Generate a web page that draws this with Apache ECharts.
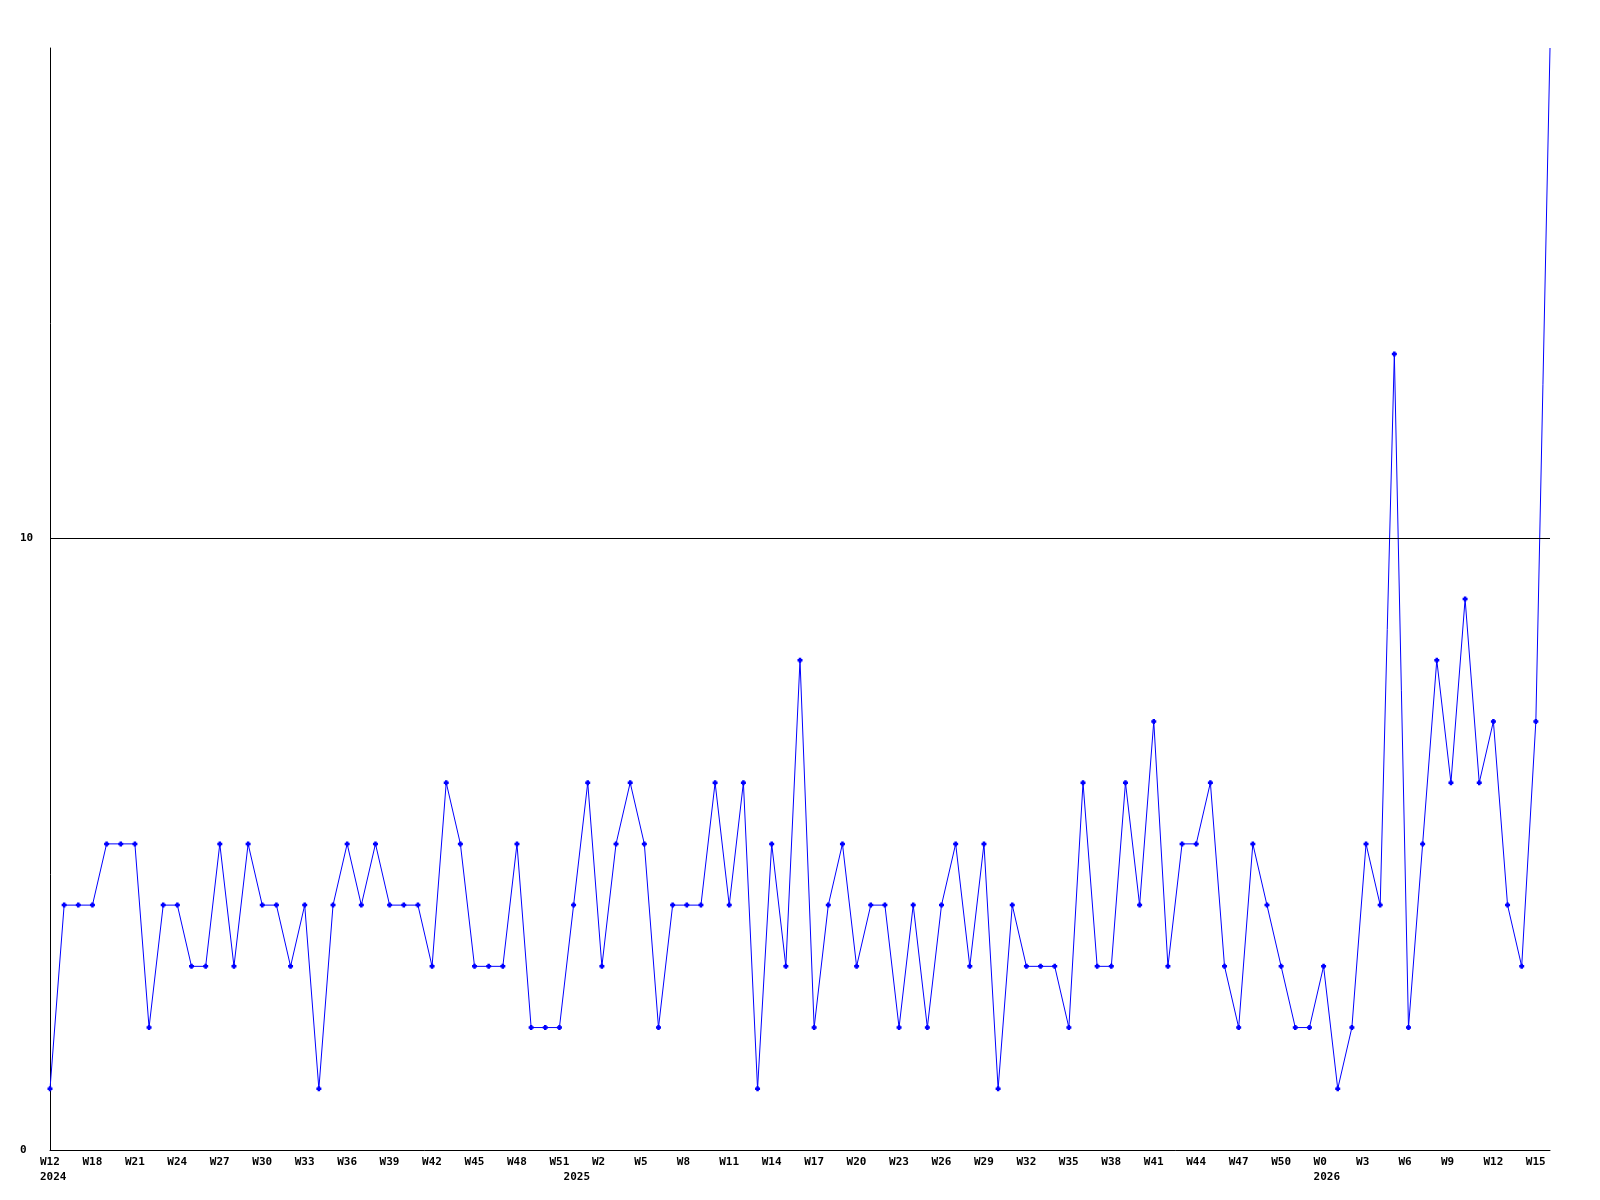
<!DOCTYPE html>
<html>
<head>
<meta charset="utf-8">
<script src="https://cdn.jsdelivr.net/npm/echarts@6/dist/echarts.min.js"></script>
<style>
  html, body { margin: 0; padding: 0; background: #ffffff; }
  #chart { width: 1600px; height: 1200px; }
</style>
</head>
<body>
<div id="chart"></div>
<script>
// Weekly values, one per week (107 weeks)
const weeklyValues = [
  1, 4, 4, 4, 5, 5, 5, 2, 4, 4,
  3, 3, 5, 3, 5, 4, 4, 3, 4, 1,
  4, 5, 4, 5, 4, 4, 4, 3, 6, 5,
  3, 3, 3, 5, 2, 2, 2, 4, 6, 3,
  5, 6, 5, 2, 4, 4, 4, 6, 4, 6,
  1, 5, 3, 8, 2, 4, 5, 3, 4, 4,
  2, 4, 2, 4, 5, 3, 5, 1, 4, 3,
  3, 3, 2, 6, 3, 3, 6, 4, 7, 3,
  5, 5, 6, 3, 2, 5, 4, 3, 2, 2,
  3, 1, 2, 5, 4, 13, 2, 5, 8, 6,
  9, 6, 7, 4, 3, 7, 18
];

// Week tick labels, shown on every third week
const weekTickLabels = [
  'W12', 'W18', 'W21', 'W24', 'W27', 'W30', 'W33', 'W36', 'W39', 'W42',
  'W45', 'W48', 'W51', 'W2', 'W5', 'W8', 'W11', 'W14', 'W17', 'W20',
  'W23', 'W26', 'W29', 'W32', 'W35', 'W38', 'W41', 'W44', 'W47', 'W50',
  'W0', 'W3', 'W6', 'W9', 'W12', 'W15'
];

// Year labels and the week (category index) where each year starts
const yearLabels = ['2024', '2025', '2026'];
const yearStartWeek = [0, 37, 90];

// Y axis tick labels
const yTickLabels = [0, 10];
const Y_MAX = 18;

const categories = weeklyValues.map((v, i) => String(i));

const FONT = '"DejaVu Sans Mono", "Liberation Mono", monospace';
const MARKER = 'path://M1,0H3V1H4V3H3V4H1V3H0V1H1Z';

const chart = echarts.init(document.getElementById('chart'), null, { renderer: 'canvas' });

chart.setOption({
  animation: false,
  backgroundColor: '#ffffff',
  grid: { left: 50, right: 50, top: 48, bottom: 50, containLabel: false },
  xAxis: {
    type: 'category',
    data: categories,
    boundaryGap: false,
    axisLine: { show: true, lineStyle: { color: '#000000', width: 1 } },
    axisTick: { show: false },
    splitLine: { show: false },
    axisLabel: {
      interval: 0,
      margin: 5,
      align: 'center',
      width: 20,
      overflow: 'none',
      formatter: function (value, idx) {
        const wk = (idx % 3 === 0) ? (weekTickLabels[idx / 3] || '') : '';
        const yi = yearStartWeek.indexOf(idx);
        const yr = yi >= 0 ? yearLabels[yi] : '';
        if (!wk && !yr) return '';
        let s = '{a|' + (wk || ' ') + '}';
        if (yr) s += '\n{a|' + yr + '}';
        return s;
      },
      rich: {
        a: {
          align: 'left',
          fontFamily: FONT,
          fontSize: 11,
          fontWeight: 'bold',
          color: '#000000',
          lineHeight: 15
        }
      }
    }
  },
  yAxis: {
    type: 'value',
    min: 0,
    max: Y_MAX,
    interval: 10,
    axisLine: { show: true, lineStyle: { color: '#000000', width: 1 } },
    axisTick: { show: false },
    splitLine: { show: false },
    axisLabel: {
      margin: 30,
      align: 'left',
      fontFamily: FONT,
      fontSize: 11,
      fontWeight: 'bold',
      color: '#000000',
      showMaxLabel: false,
      formatter: function (v) {
        return yTickLabels.indexOf(v) >= 0 ? String(v) : '';
      }
    }
  },
  series: [{
    type: 'line',
    data: weeklyValues,
    symbol: function (v) { return v >= Y_MAX ? 'none' : MARKER; },
    symbolSize: 5,
    showAllSymbol: true,
    clip: true,
    lineStyle: { color: '#0000ff', width: 1 },
    itemStyle: { color: '#0000ff', borderWidth: 0 },
    markLine: {
      silent: true,
      symbol: ['none', 'none'],
      label: { show: false },
      lineStyle: { color: '#000000', width: 1, type: 'solid' },
      data: [{ yAxis: 10 }]
    }
  }]
});
</script>
</body>
</html>
